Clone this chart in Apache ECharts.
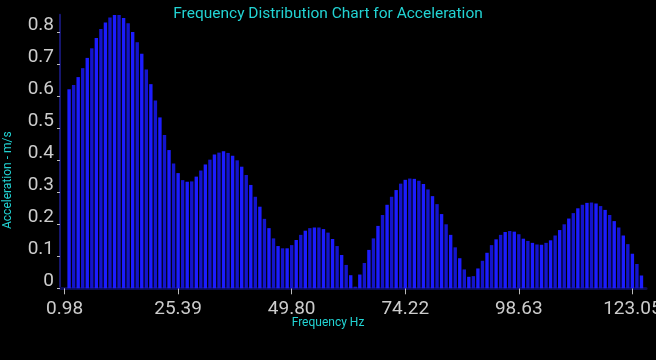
<!DOCTYPE html>
<html>
<head>
<meta charset="utf-8">
<script src="https://cdn.jsdelivr.net/npm/echarts@6/dist/echarts.min.js"></script>
<style>
html,body{margin:0;padding:0;background:#000;}
#chart{width:656px;height:360px;}
</style>
</head>
<body>
<div id="chart"></div>
<script>
// Frequency bins (Hz) and acceleration values (m/s)
const binHz = 0.9765625;
const binCount = 130;
const firstBarBin = 2;
const tickLabels = ['0.98', '25.39', '49.80', '74.22', '98.63', '123.05'];
const yTicks = [0, 0.1, 0.2, 0.3, 0.4, 0.5, 0.6, 0.7, 0.8];
const yMax = 0.855;
const accel = [
  0.622, 0.635, 0.660, 0.688, 0.720, 0.750, 0.782, 0.810, 0.831, 0.846,
  0.854, 0.854, 0.845, 0.828, 0.801, 0.769, 0.733, 0.684, 0.638, 0.587,
  0.534, 0.479, 0.432, 0.390, 0.360, 0.338, 0.333, 0.334, 0.349, 0.368,
  0.387, 0.402, 0.418, 0.424, 0.428, 0.423, 0.414, 0.400, 0.380, 0.354,
  0.323, 0.286, 0.255, 0.217, 0.188, 0.156, 0.132, 0.125, 0.125, 0.135,
  0.151, 0.167, 0.180, 0.188, 0.190, 0.190, 0.185, 0.174, 0.154, 0.132,
  0.104, 0.073, 0.041, 0.005, 0.043, 0.079, 0.120, 0.156, 0.195, 0.229,
  0.261, 0.286, 0.307, 0.327, 0.339, 0.343, 0.342, 0.336, 0.326, 0.309,
  0.288, 0.263, 0.232, 0.200, 0.167, 0.128, 0.094, 0.059, 0.036, 0.038,
  0.062, 0.086, 0.111, 0.135, 0.153, 0.167, 0.176, 0.179, 0.177, 0.169,
  0.155, 0.148, 0.142, 0.137, 0.136, 0.142, 0.150, 0.165, 0.182, 0.200,
  0.218, 0.235, 0.250, 0.261, 0.267, 0.268, 0.265, 0.257, 0.245, 0.229,
  0.210, 0.190, 0.165, 0.138, 0.108, 0.076, 0.040
];

const categories = Array.from({length: binCount}, (_, k) => (k * binHz).toFixed(2));
const seriesData = categories.map((c, k) => {
  const i = k - firstBarBin;
  return (i >= 0 && i < accel.length) ? accel[i] : null;
});

const chart = echarts.init(document.getElementById('chart'), null, {renderer: 'canvas'});
const isTick = (index, value) => tickLabels.indexOf(value) >= 0;
const nameColor = '#22d3d3';
chart.setOption({
  backgroundColor: '#000000',
  animation: false,
  title: {
    text: 'Frequency Distribution Chart for Acceleration',
    left: 'center',
    top: 1,
    textStyle: {color: nameColor, fontSize: 15.5, fontWeight: 'normal', fontFamily: 'Roboto'}
  },
  graphic: [
    {type: 'text', left: 'center', top: 317,
     style: {text: 'Frequency Hz', fill: nameColor, fontSize: 12, fontFamily: 'Roboto'}},
    {type: 'text', x: 2, y: 229, rotation: Math.PI / 2,
     style: {text: 'Acceleration - m/s', fill: nameColor, fontSize: 12, fontFamily: 'Roboto',
             align: 'left', verticalAlign: 'top'}}
  ],
  grid: {left: 60, right: 10, top: 14.7, bottom: 71.7, containLabel: false, outerBoundsMode: 'none'},
  xAxis: {
    type: 'category',
    data: categories,
    boundaryGap: false,
    axisLine: {show: true, lineStyle: {color: '#0c0c50', width: 3}},
    axisTick: {show: true, interval: isTick, length: 6, lineStyle: {color: '#bbbbbb', width: 1}},
    axisLabel: {
      interval: isTick,
      color: '#cccccc',
      fontSize: 19,
      fontFamily: 'Roboto',
      margin: 11,
      hideOverlap: false
    },
    splitLine: {show: false}
  },
  yAxis: {
    type: 'value',
    min: 0,
    max: yMax,
    axisLine: {show: true, lineStyle: {color: '#16166e', width: 2}},
    axisTick: {show: true, customValues: yTicks, length: 3, lineStyle: {color: '#bbbbbb'}},
    axisLabel: {
      customValues: yTicks,
      color: '#cccccc',
      fontSize: 19,
      lineHeight: 15,
      fontFamily: 'Roboto',
      margin: 6,
      verticalAlign: 'bottom',
      formatter: v => String(Math.round(v * 10) / 10)
    },
    splitLine: {show: false}
  },
  series: [{
    type: 'bar',
    data: seriesData,
    barWidth: 3.4,
    itemStyle: {
      color: p => (p.dataIndex % 2 === 0 ? '#1c1cff' : '#1414cc')
    }
  }]
});
</script>
</body>
</html>
